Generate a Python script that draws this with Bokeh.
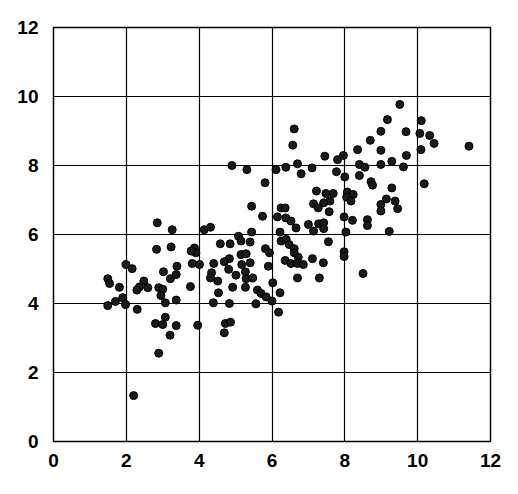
from bokeh.plotting import figure
from bokeh.models import Range1d, FixedTicker, ColumnDataSource
from bokeh.embed import file_html
from bokeh.resources import INLINE

x_vals = [2.85, 3.26, 2.83, 3.23, 1.99, 2.16, 1.49, 1.54, 1.81, 2.48, 2.36, 2.29, 2.59, 2.89, 3.00,
          2.95, 3.07, 3.02, 3.21, 3.37, 3.39, 3.37, 1.49, 1.70, 1.90, 1.98, 2.30, 2.80, 3.07, 3.00,
          3.37, 3.20, 2.89, 2.20, 3.87, 3.91, 3.78, 3.81, 4.01, 3.76, 5.74, 6.15, 6.38, 4.14, 4.31,
          5.44, 6.22, 5.08, 5.15, 5.40, 4.58, 4.85, 6.25, 6.39, 6.47, 5.82, 5.93, 5.15, 5.29, 4.83,
          4.69, 6.36, 4.40, 5.17, 5.40, 5.90, 4.81, 5.01, 5.27, 4.34, 4.31, 4.51, 5.29, 5.47, 6.02,
          4.92, 5.27, 5.60, 5.70, 5.84, 6.22, 4.53, 6.00, 4.39, 4.83, 5.56, 6.18, 4.72, 4.86, 3.96,
          4.69, 4.90, 5.31, 6.11, 6.38, 5.81, 5.44, 6.25, 6.36, 6.61, 6.57, 8.99, 8.70, 8.99, 7.45,
          7.80, 7.96, 8.35, 6.70, 7.10, 6.80, 7.77, 8.00, 8.40, 8.55, 8.40, 8.72, 8.76, 8.99, 7.22,
          7.48, 7.68, 8.07, 8.23, 8.05, 8.17, 7.59, 7.42, 7.14, 7.27, 7.57, 8.99, 8.99, 9.51, 9.17,
          10.10, 9.68, 10.06, 10.33, 10.45, 11.41, 10.09, 9.69, 9.29, 9.61, 9.29, 10.18, 9.14, 9.38,
          9.45, 9.22, 7.98, 8.21, 8.62, 8.62, 6.52, 6.66, 7.00, 7.28, 7.42, 7.42, 7.14, 8.03, 7.55,
          6.61, 6.61, 6.72, 6.52, 6.70, 6.86, 7.11, 7.41, 7.98, 7.98, 8.50, 6.70, 7.30]
y_vals = [6.34, 6.14, 5.57, 5.64, 5.13, 5.01, 4.72, 4.58, 4.47, 4.65, 4.48, 4.39, 4.46, 4.46, 4.41,
          4.23, 4.02, 4.92, 4.72, 4.84, 5.08, 4.10, 3.94, 4.06, 4.17, 3.97, 3.83, 3.42, 3.60, 3.39,
          3.36, 3.08, 2.56, 1.33, 5.61, 5.47, 5.52, 5.16, 5.13, 4.49, 6.53, 6.51, 6.48, 6.14, 6.21,
          6.07, 6.07, 5.95, 5.81, 5.78, 5.73, 5.73, 5.81, 5.86, 5.71, 5.59, 5.47, 5.42, 5.44, 5.30,
          5.21, 5.25, 5.16, 5.13, 5.18, 5.08, 4.99, 4.82, 4.92, 4.89, 4.74, 4.65, 4.72, 4.74, 4.60,
          4.47, 4.47, 4.39, 4.29, 4.19, 4.31, 4.31, 4.07, 4.02, 4.00, 3.99, 3.75, 3.42, 3.46, 3.37,
          3.15, 8.00, 7.88, 7.88, 7.95, 7.50, 6.82, 6.77, 6.77, 9.06, 8.59, 8.99, 8.73, 8.44, 8.27,
          8.17, 8.29, 8.46, 8.05, 7.93, 7.76, 7.82, 7.67, 8.03, 7.95, 7.71, 7.53, 7.43, 8.03, 7.26,
          7.19, 7.19, 7.23, 7.16, 7.08, 6.97, 6.97, 6.92, 6.89, 6.77, 6.66, 6.87, 6.68, 9.77, 9.33,
          9.30, 8.98, 8.93, 8.87, 8.64, 8.56, 8.46, 8.29, 8.12, 7.96, 7.35, 7.47, 7.03, 6.97,
          6.75, 6.09, 6.51, 6.41, 6.43, 6.26, 6.39, 6.19, 6.29, 6.31, 6.34, 6.17, 6.10, 6.07, 5.79,
          5.59, 5.47, 5.34, 5.16, 5.16, 5.13, 5.30, 5.18, 5.50, 5.36, 4.87, 4.74, 4.74]
tick_values = [0, 2, 4, 6, 8, 10, 12]

src = ColumnDataSource(dict(x=x_vals, y=y_vals))

p = figure(width=509, height=485, output_backend="svg", toolbar_location=None,
           x_range=Range1d(0, 12), y_range=Range1d(0, 12),
           min_border_left=53, min_border_right=19, min_border_top=27, min_border_bottom=44)
p.scatter("x", "y", source=src, size=8, fill_color="#1a1a1a", line_color="#000000", line_width=1)

for ax in (p.xaxis[0], p.yaxis[0]):
    ax.ticker = FixedTicker(ticks=tick_values)
    ax.axis_line_color = None
    ax.major_tick_line_color = None
    ax.minor_tick_line_color = None
    ax.major_tick_out = 0
    ax.major_tick_in = 0
    ax.major_label_text_font = "Liberation Sans"
    ax.major_label_text_font_style = "bold"
    ax.major_label_text_font_size = "19px"
    ax.major_label_text_color = "#000000"
p.xaxis.major_label_standoff = 12
p.yaxis.major_label_standoff = 15

for g in (p.xgrid[0], p.ygrid[0]):
    g.ticker = FixedTicker(ticks=tick_values)
    g.grid_line_color = "#000000"
    g.grid_line_width = 1.2
    g.grid_line_alpha = 1.0
    g.level = "underlay"

p.outline_line_color = "#000000"
p.outline_line_width = 1.5
p.background_fill_color = "#ffffff"
p.border_fill_color = "#ffffff"

open("out.html", "w").write(file_html(p, INLINE))
